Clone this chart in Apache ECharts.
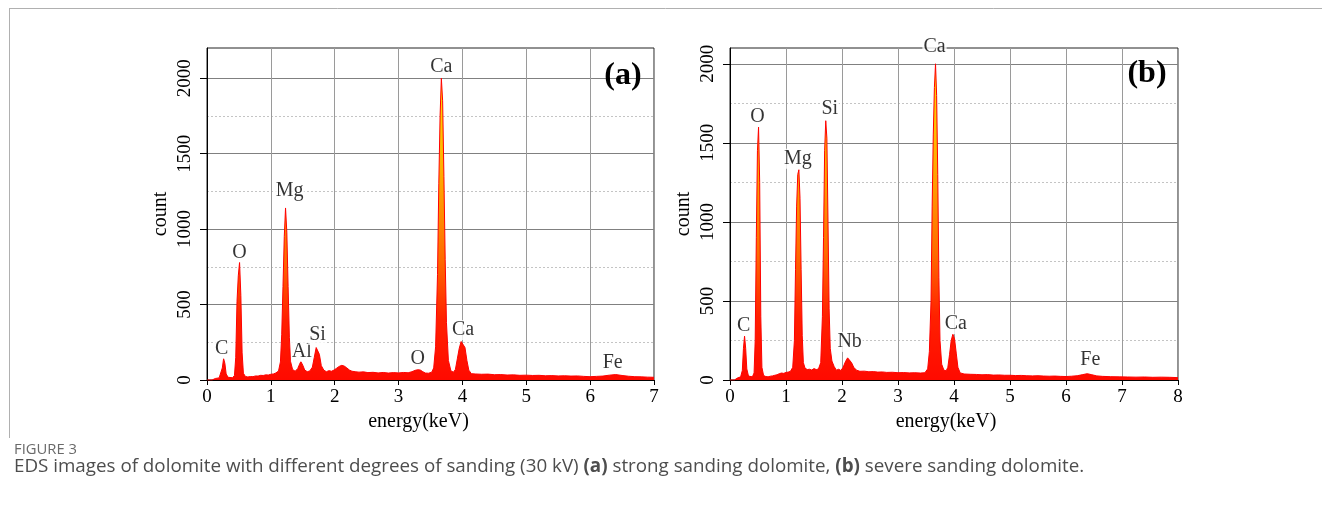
<!DOCTYPE html>
<html><head><meta charset="utf-8">
<script src="https://cdn.jsdelivr.net/npm/echarts@6/dist/echarts.min.js"></script>
<style>html,body{margin:0;padding:0;background:#fff}#c{width:1322px;height:524px}</style>
</head><body><div id="c"></div>
<script>
// ---------------- DATA ----------------
// Panel (a): strong sanding dolomite
const energyA = [0.00,0.08,0.10,0.13,0.16,0.19,0.22,0.24,0.26,0.28,0.30,0.33,0.36,0.40,0.43,0.45,0.47,0.49,0.51,0.53,0.55,0.57,0.60,0.64,0.68,0.72,0.76,0.80,0.84,0.88,0.92,0.96,1.00,1.04,1.08,1.12,1.15,1.17,1.19,1.21,1.23,1.25,1.27,1.29,1.31,1.34,1.38,1.42,1.45,1.47,1.50,1.53,1.57,1.61,1.65,1.68,1.71,1.73,1.76,1.79,1.83,1.87,1.91,1.95,1.99,2.03,2.07,2.11,2.15,2.19,2.23,2.27,2.32,2.38,2.45,2.52,2.60,2.68,2.76,2.84,2.92,3.00,3.08,3.15,3.21,3.26,3.30,3.34,3.38,3.42,3.47,3.52,3.55,3.58,3.61,3.63,3.65,3.67,3.69,3.71,3.73,3.75,3.78,3.82,3.86,3.89,3.92,3.95,3.98,4.01,4.04,4.07,4.10,4.14,4.20,4.30,4.40,4.50,4.60,4.70,4.80,4.90,5.00,5.10,5.20,5.30,5.40,5.50,5.60,5.70,5.80,5.90,6.00,6.10,6.20,6.30,6.40,6.50,6.60,6.70,6.80,6.90,7.00];
const countA  = [0,0,5,10,12,14,25,80,142,110,40,18,14,15,30,150,520,690,780,560,180,45,24,20,23,22,27,26,31,30,34,33,38,40,47,60,120,300,620,950,1140,980,620,280,120,70,58,75,105,122,98,66,55,60,85,150,215,225,170,95,65,55,62,58,66,78,90,97,92,80,66,58,55,52,54,49,51,47,50,46,49,47,50,48,55,64,68,66,55,46,45,52,80,220,700,1300,1750,2000,1850,1350,800,380,130,60,52,70,140,210,255,265,215,130,65,42,40,38,39,35,36,33,34,31,32,30,31,28,29,27,28,26,27,24,22,24,26,32,36,30,25,22,21,19,18];
const peakNamesA  = ['C','O','Mg','Al','Si','O','Ca','Ca','Fe'];
const peakEnergyA = [0.26,0.51,1.23,1.47,1.73,3.30,3.67,4.01,6.40];
const peakCountA  = [142,780,1140,122,225,68,2000,265,36];

// Panel (b): severe sanding dolomite
const energyB = [0.00,0.08,0.10,0.13,0.16,0.19,0.22,0.24,0.26,0.28,0.30,0.33,0.36,0.40,0.43,0.45,0.47,0.49,0.51,0.53,0.55,0.57,0.60,0.64,0.68,0.72,0.76,0.80,0.84,0.88,0.92,0.96,1.00,1.04,1.08,1.12,1.15,1.17,1.19,1.21,1.23,1.25,1.27,1.29,1.31,1.34,1.38,1.42,1.46,1.50,1.54,1.58,1.62,1.65,1.67,1.69,1.71,1.73,1.75,1.77,1.79,1.82,1.86,1.90,1.94,1.98,2.02,2.06,2.10,2.13,2.17,2.21,2.26,2.32,2.40,2.48,2.56,2.64,2.72,2.80,2.90,3.00,3.10,3.20,3.30,3.40,3.48,3.53,3.56,3.59,3.61,3.63,3.65,3.67,3.69,3.71,3.73,3.75,3.78,3.82,3.86,3.89,3.92,3.95,3.98,4.01,4.04,4.07,4.11,4.18,4.30,4.40,4.50,4.60,4.70,4.80,4.90,5.00,5.10,5.20,5.30,5.40,5.50,5.60,5.70,5.80,5.90,6.00,6.10,6.20,6.30,6.38,6.45,6.55,6.65,6.80,6.95,7.10,7.25,7.40,7.55,7.70,7.85,8.00];
const countB  = [0,0,6,12,15,20,60,200,278,200,70,25,18,20,45,250,900,1450,1600,1250,400,80,28,22,20,24,26,30,33,40,44,42,48,50,55,80,250,700,1100,1300,1330,1150,700,280,110,75,66,68,63,72,66,70,110,400,900,1450,1640,1530,1000,450,200,120,85,62,68,60,80,115,140,135,110,80,62,55,56,52,53,50,51,48,49,46,47,45,46,44,46,70,180,500,1100,1550,1850,2000,1800,1300,650,250,100,62,58,80,160,250,290,260,170,80,45,38,36,35,33,34,31,32,30,30,28,29,27,26,27,25,24,25,23,22,24,27,34,40,34,26,23,21,20,19,18,19,17,18,17,15];
const peakNamesB  = ['C','O','Mg','Si','Nb','Ca','Ca','Fe'];
const peakEnergyB = [0.26,0.51,1.23,1.71,2.10,3.67,3.98,6.38];
const peakCountB  = [278,1600,1330,1640,140,2000,290,40];

// Axis ranges and ticks
const xMaxA = 7, xMaxB = 8;
const yMaxA = 2200, yMaxB = 2100;
const yTicks = [0,500,1000,1500,2000];
const yMinorTicks = [250,750,1250,1750];

const xTitle = 'energy(keV)';
const yTitle = 'count';
const panelTags = ['(a)','(b)'];
const captionHead = 'FIGURE 3';
const captionParts = [
  {t:'EDS images of dolomite with different degrees of sanding (30 kV) ', b:false},
  {t:'(a)', b:true},
  {t:' strong sanding dolomite, ', b:false},
  {t:'(b)', b:true},
  {t:' severe sanding dolomite.', b:false}
];

// ---------------- STYLE / LAYOUT ----------------
const SERIF = '"Liberation Serif", "Times New Roman", serif';
const SANS = '"Open Sans", "Noto Sans", sans-serif';
const grids = [
  {left:207, top:48, width:447, height:332},
  {left:730, top:48, width:448, height:332}
];
// label pixel nudges (dx, dy) per peak label
const nudgeA = [[-2,0],[0,0],[4,-7],[1,0],[0,-1],[0,-1],[0,-1],[0,0],[-3,-2]];
const nudgeB = [[-1,0],[-1,0],[-1,-1],[4,-2],[2,-6],[-1,-7],[3,0],[3,-4]];

const chart = echarts.init(document.getElementById('c'), null, {renderer:'canvas'});

function zip(xs, ys){ return xs.map((x,i)=>[x, ys[i]]); }

function areaGrad(){
  return new echarts.graphic.LinearGradient(0,0,0,1,[
    {offset:0, color:'#ffe000'},
    {offset:0.3, color:'#ffb000'},
    {offset:0.6, color:'#ff6a00'},
    {offset:0.8, color:'#ff2000'},
    {offset:1, color:'#ff0a00'}
  ]);
}

const xAxes = [], yAxes = [], series = [];
[[xMaxA, yMaxA, energyA, countA, peakNamesA, peakEnergyA, peakCountA, nudgeA],
 [xMaxB, yMaxB, energyB, countB, peakNamesB, peakEnergyB, peakCountB, nudgeB]].forEach((p, gi) => {
  const [xMax, yMax, ex, cy, pn, pe, pc, nd] = p;
  xAxes.push({
    type:'value', gridIndex:gi, min:0, max:xMax, interval:1,
    name:xTitle, nameLocation:'middle', nameGap:30,
    nameTextStyle:{fontFamily:SERIF, fontSize:20, color:'#000', padding:[0, gi===0?24:16, 0, 0]},
    axisLine:{show:true, lineStyle:{color:'#000', width:1}},
    axisTick:{show:true, inside:false, length:5, lineStyle:{color:'#000'}},
    axisLabel:{fontFamily:SERIF, fontSize:19, color:'#000', margin:8, formatter:v=>String(v)},
    splitLine:{show:true, lineStyle:{color:'#9a9a9a', width:1}}
  });
  yAxes.push({
    type:'value', gridIndex:gi, min:0, max:yMax,
    name:yTitle, nameLocation:'middle', nameGap:36, nameRotate:90,
    nameTextStyle:{fontFamily:SERIF, fontSize:20, color:'#000'},
    axisLine:{show:true, lineStyle:{color:'#000', width:1}},
    axisTick:{show:true, inside:false, length:7, lineStyle:{color:'#000'}, customValues:yTicks},
    axisLabel:{fontFamily:SERIF, fontSize:19, color:'#000', rotate:90, margin:12, customValues:yTicks, formatter:v=>String(v)},
    splitLine:{show:true, lineStyle:{color:'#808080', width:1}}
  });
  yAxes.push({
    type:'value', gridIndex:gi, min:0, max:yMax, position:'left',
    axisLine:{show:false}, axisLabel:{show:false},
    axisTick:{show:false, customValues:yMinorTicks},
    splitLine:{show:true, lineStyle:{color:'#c4c4c4', width:1, type:[2,2]}}
  });
  series.push({
    type:'line', xAxisIndex:gi, yAxisIndex:gi*2, data:zip(ex, cy),
    showSymbol:false, symbol:'none', smooth:false, z:3, silent:true,
    lineStyle:{color:'#ff0000', width:1},
    areaStyle:{color:areaGrad(), opacity:1}
  });
  series.push({
    type:'scatter', xAxisIndex:gi, yAxisIndex:gi*2, symbolSize:0, z:5, silent:true,
    data: pn.map((n,i)=>({value:[pe[i], pc[i]], name:n,
      label:{offset:nd[i]}})),
    label:{show:true, position:'top', distance:0, formatter:'{b}',
      fontFamily:SERIF, fontSize:20, color:'#000',
      backgroundColor:'#fff', padding:[0,1,0,1]}
  });
});

const captionGraphics = [];
// caption body, built from parts
let cx = 14;
const measureCtx = document.createElement('canvas').getContext('2d');
const capFont = '18.8px ' + SANS;
captionParts.forEach(part => {
  const font = (part.b ? 'bold ' : '') + capFont;
  measureCtx.font = font;
  captionGraphics.push({type:'text', left:cx, top:457,
    style:{text:part.t, font:font, fill:'#4d4d4d'}});
  cx += measureCtx.measureText(part.t).width;
});

chart.setOption({
  animation:false,
  backgroundColor:'#fff',
  grid: grids.map(g => Object.assign({show:true, borderColor:'#222', borderWidth:1, backgroundColor:'transparent'}, g)),
  xAxis: xAxes,
  yAxis: yAxes,
  series: series,
  graphic: [
    {type:'line', shape:{x1:9, y1:8.5, x2:1322, y2:8.5}, style:{stroke:'#b0b0b0', lineWidth:1}, silent:true},
    {type:'line', shape:{x1:9.5, y1:8, x2:9.5, y2:438}, style:{stroke:'#b0b0b0', lineWidth:1}, silent:true},
    {type:'text', x:623, y:76, z:10, style:{text:panelTags[0], font:'bold 32px '+SERIF, fill:'#000', align:'center', verticalAlign:'middle'}},
    {type:'text', x:1147, y:74, z:10, style:{text:panelTags[1], font:'bold 32px '+SERIF, fill:'#000', align:'center', verticalAlign:'middle'}},
    {type:'text', left:14, top:442, style:{text:captionHead, font:'14.8px '+SANS, fill:'#6a6a6a'}}
  ].concat(captionGraphics)
});
</script>
</body></html>
